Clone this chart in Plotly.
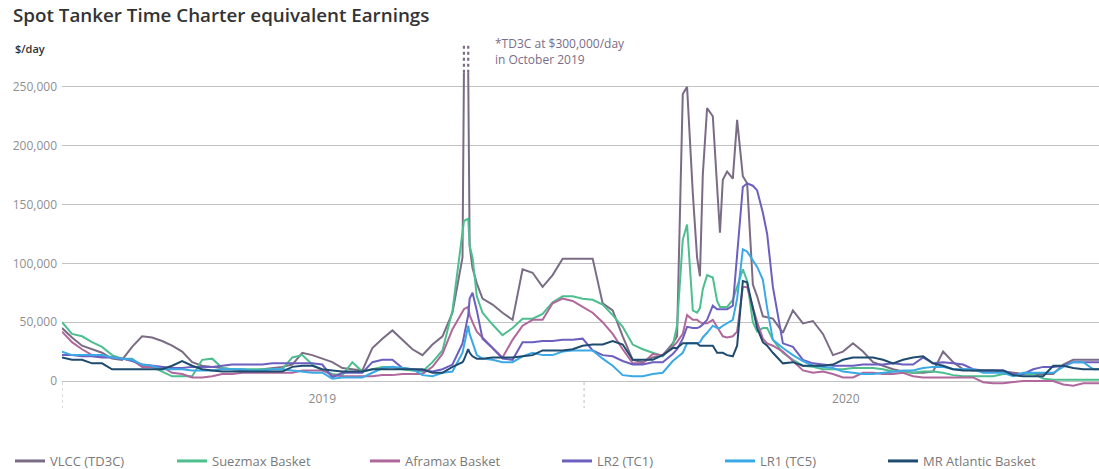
import plotly.graph_objects as go

# ---------------- data (values in $ thousands per day) ----------------
DATES = [
    "2019-01-01", "2019-01-08", "2019-01-15", "2019-01-22", "2019-01-29",
    "2019-02-05", "2019-02-12", "2019-02-19", "2019-02-26",
    "2019-03-05", "2019-03-12", "2019-03-19", "2019-03-26",
    "2019-04-02", "2019-04-09", "2019-04-16", "2019-04-23", "2019-04-30",
    "2019-05-07", "2019-05-14", "2019-05-21", "2019-05-28",
    "2019-06-04", "2019-06-11", "2019-06-18", "2019-06-25",
    "2019-07-02", "2019-07-09", "2019-07-16", "2019-07-23", "2019-07-30",
    "2019-08-06", "2019-08-13", "2019-08-20", "2019-08-27",
    "2019-09-03", "2019-09-10", "2019-09-17", "2019-09-24",
    "2019-10-01", "2019-10-08", "2019-10-09", "2019-10-12", "2019-10-13", "2019-10-15", "2019-10-18", "2019-10-22", "2019-10-29",
    "2019-11-05", "2019-11-12", "2019-11-19", "2019-11-26",
    "2019-12-03", "2019-12-10", "2019-12-17", "2019-12-24", "2019-12-31",
    "2020-01-07", "2020-01-14", "2020-01-21", "2020-01-28",
    "2020-02-04", "2020-02-11", "2020-02-18", "2020-02-25",
    "2020-03-03", "2020-03-06", "2020-03-10", "2020-03-13", "2020-03-17", "2020-03-20", "2020-03-22", "2020-03-24", "2020-03-27", "2020-03-31",
    "2020-04-03", "2020-04-05", "2020-04-07", "2020-04-10", "2020-04-14", "2020-04-17", "2020-04-21", "2020-04-24", "2020-04-28",
    "2020-05-01", "2020-05-05", "2020-05-08", "2020-05-12", "2020-05-19", "2020-05-26",
    "2020-06-02", "2020-06-09", "2020-06-16", "2020-06-23", "2020-06-30",
    "2020-07-07", "2020-07-14", "2020-07-21", "2020-07-28",
    "2020-08-04", "2020-08-11", "2020-08-18", "2020-08-25",
    "2020-09-01", "2020-09-08", "2020-09-15", "2020-09-22", "2020-09-29",
    "2020-10-06", "2020-10-13", "2020-10-20", "2020-10-27",
    "2020-11-03", "2020-11-10", "2020-11-17", "2020-11-24",
    "2020-12-01", "2020-12-08", "2020-12-15", "2020-12-22", "2020-12-29",
]

VLCC = [
    45, 37, 30, 27, 24,
    19, 18, 29, 38,
    37, 34, 30, 25,
    16, 13, 12, 11, 10,
    9, 9, 10, 11,
    12, 14, 24, 22,
    19, 16, 11, 10, 9,
    28, 36, 43, 35,
    27, 22, 31, 38,
    58, 105, 300, 300, 115, 96, 83, 70, 65,
    58, 52, 95, 92,
    80, 90, 104, 104, 104,
    104, 66, 60, 38,
    18, 16, 20, 22,
    32, 38, 244, 250, 160, 105, 89, 175, 232, 225,
    171, 126, 171, 178, 172, 222, 174, 168, 82,
    72, 55, 54, 53, 41, 60,
    49, 51, 40, 22, 25,
    32, 25, 16, 13,
    10, 8, 7, 7,
    8, 25, 16, 10, 9,
    9, 9, 8, 7,
    6, 6, 6, 6,
    14, 18, 18, 18, 18,
]

SUEZMAX = [
    50, 40, 38, 33, 29,
    22, 19, 19, 13,
    12, 8, 4, 4,
    4, 18, 19, 11, 10,
    10, 10, 10, 10,
    10, 20, 22, 14,
    9, 6, 5, 16, 8,
    10, 12, 12, 10,
    9, 8, 16, 26,
    60, 125, 136, 138, 115, 105, 72, 58, 48,
    39, 45, 53, 53,
    57, 67, 72, 72, 70,
    69, 65, 56, 46,
    31, 27, 24, 21,
    30, 47, 120, 133, 60, 58, 62, 78, 90, 88,
    68, 63, 63, 63, 69, 80, 95, 85, 50,
    42, 45, 45, 35, 24, 18,
    13, 12, 10, 10, 10,
    11, 11, 11, 10,
    8, 8, 7, 8,
    8, 7, 5, 4, 4,
    4, 4, 6, 6,
    6, 6, 2, 1,
    1, 1, 1, 1, 1,
]

AFRAMAX = [
    42, 33, 27, 22, 21,
    20, 19, 18, 12,
    12, 12, 7, 6,
    3, 3, 4, 6, 6,
    7, 7, 7, 7,
    7, 7, 9, 9,
    9, 5, 4, 4, 4,
    4, 5, 5, 6,
    6, 6, 12, 23,
    44, 58, 61, 63, 56, 50, 42, 37, 28,
    20, 35, 47, 52,
    52, 66, 70, 68, 63,
    58, 50, 40, 27,
    15, 15, 23, 22,
    29, 33, 40, 56, 52, 52, 50, 49, 49, 52,
    46, 42, 38, 37, 38, 42, 80, 80, 62,
    50, 36, 32, 30, 25, 17,
    9, 7, 8, 6, 3,
    3, 7, 7, 6,
    6, 7, 4, 3,
    3, 3, 3, 3, 3,
    -1, -2, -2, -1,
    0, 0, 0, 0,
    -3, -4, -2, -2, -2,
]

LR2 = [
    22, 22, 21, 21, 20,
    20, 19, 17, 14,
    13, 12, 11, 11,
    12, 12, 12, 13, 14,
    14, 14, 14, 15,
    15, 15, 15, 15,
    14, 3, 7, 7, 7,
    16, 18, 18, 11,
    10, 9, 8, 10,
    14, 32, 38, 56, 70, 75, 60, 36, 28,
    19, 18, 33, 33,
    34, 34, 35, 35, 36,
    26, 22, 21, 17,
    14, 14, 16, 16,
    23, 27, 36, 46, 45, 45, 46, 48, 52, 64,
    61, 61, 61, 61, 64, 110, 165, 168, 166,
    162, 143, 125, 80, 32, 29,
    18, 15, 14, 13, 13,
    13, 14, 14, 14,
    15, 14, 14, 20,
    15, 16, 15, 14, 10,
    9, 9, 9, 6,
    6, 10, 12, 12,
    13, 16, 16, 16, 16,
]

LR1 = [
    25, 22, 22, 22, 22,
    20, 19, 18, 14,
    13, 10, 10, 10,
    9, 9, 9, 10, 10,
    10, 9, 9, 10,
    10, 9, 8, 7,
    7, 2, 3, 3, 3,
    7, 11, 12, 11,
    10, 5, 4, 7,
    8, 24, 30, 47, 40, 33, 22, 19, 18,
    16, 16, 21, 24,
    22, 22, 25, 26, 26,
    26, 19, 13, 5,
    4, 4, 6, 7,
    17, 20, 24, 32, 32, 32, 33, 37, 41, 47,
    45, 45, 47, 49, 52, 70, 112, 110, 103,
    97, 86, 62, 35, 28, 22,
    17, 13, 12, 11, 8,
    7, 6, 6, 7,
    8, 9, 9, 11,
    12, 12, 10, 10, 10,
    7, 7, 7, 4,
    7, 7, 7, 7,
    12, 16, 16, 10, 10,
]

MR_ATLANTIC = [
    20, 18, 18, 15, 15,
    10, 10, 10, 10,
    10, 10, 13, 17,
    13, 10, 9, 8, 8,
    8, 8, 8, 8,
    8, 12, 13, 13,
    10, 9, 8, 8, 8,
    10, 10, 10, 10,
    10, 10, 7, 7,
    12, 16, 18, 27, 24, 21, 19, 19, 20,
    20, 20, 21, 22,
    26, 26, 26, 27, 30,
    31, 31, 34, 31,
    18, 18, 18, 22,
    28, 28, 32, 32, 32, 32, 30, 30, 30, 30,
    24, 24, 24, 22, 21, 30, 85, 84, 62,
    45, 33, 30, 24, 15, 16,
    13, 13, 13, 14, 18,
    20, 20, 20, 18,
    15, 18, 20, 21,
    15, 13, 10, 9, 9,
    9, 9, 9, 5,
    4, 4, 4, 13,
    13, 11, 10, 10, 10,
]

SERIES_NAMES = ["VLCC (TD3C)", "Suezmax Basket", "Aframax Basket", "LR2 (TC1)", "LR1 (TC5)", "MR Atlantic Basket"]
SERIES_VALUES = [VLCC, SUEZMAX, AFRAMAX, LR2, LR1, MR_ATLANTIC]
Y_TICKS = [0, 50000, 100000, 150000, 200000, 250000]
X_TICK_DATES = ["2019-07-02", "2020-07-02"]
X_TICK_LABELS = ["2019", "2020"]
YEAR_STARTS = ["2019-01-01", "2020-01-01"]
FOOTNOTE = "*TD3C at $300,000/day<br>in October 2019"

# ---------------- styling ----------------
UNIT = 1000
CAP = 262000          # where the off-scale VLCC spike is broken
BREAK_TOP = 287000    # top of the dotted continuation
COLORS = ["#7b6c86", "#4dbf8f", "#b0679b", "#6b5fbf", "#3aa9e6", "#1e4b6e"]
LEGEND_X_PX = [10, 172, 365, 557, 720, 883]
W, H = 1099, 469
FONT = "Open Sans"

for s in SERIES_VALUES:
    assert len(s) == len(DATES), (len(s), len(DATES))

fig = go.Figure()

for i, (name, vals, col) in enumerate(zip(SERIES_NAMES, SERIES_VALUES, COLORS)):
    xs, ys = [], []
    prev_capped = False
    for d, v in zip(DATES, vals):
        val = v * UNIT
        capped = val > CAP
        if capped and prev_capped:
            xs.append(None)
            ys.append(None)
        xs.append(d)
        ys.append(min(val, CAP))
        prev_capped = capped
    fig.add_trace(go.Scatter(
        x=xs, y=ys, mode="lines", name=name, showlegend=False,
        line=dict(color=col, width=2), connectgaps=False,
        hoverinfo="skip",
    ))

# legend-only entries (thicker key lines, as in the original)
for i, (name, col) in enumerate(zip(SERIES_NAMES, COLORS)):
    leg = "legend" if i == 0 else f"legend{i + 1}"
    fig.add_trace(go.Scatter(
        x=[None], y=[None], mode="lines", name=name, legend=leg,
        line=dict(color=col, width=3), showlegend=True, hoverinfo="skip",
    ))

# dotted continuation for the off-scale spike
bx, by = [], []
for d, v in zip(DATES, VLCC):
    if v * UNIT > CAP:
        bx += [d, d, None]
        by += [CAP, BREAK_TOP, None]
fig.add_trace(go.Scatter(
    x=bx, y=by, mode="lines", showlegend=False, hoverinfo="skip",
    line=dict(color=COLORS[0], width=2.2, dash="dot"),
))

# ---------------- layout ----------------
ML, MR_, MT, MB = 62, 0, 40, 79
plot_h = H - MT - MB
y_per_px = 850
y_min = -(plot_h - (381 - MT)) * y_per_px
y_max = y_min + plot_h * y_per_px

legend_common = dict(
    orientation="h", xref="container", yref="container",
    y=1 - 461 / H, yanchor="middle", xanchor="left",
    font=dict(family=FONT, size=13, color="#7a7a7a"),
    bgcolor="rgba(0,0,0,0)", borderwidth=0,
)
legends = {}
for i, px in enumerate(LEGEND_X_PX):
    key = "legend" if i == 0 else f"legend{i + 1}"
    legends[key] = dict(legend_common, x=px / W)

fig.update_layout(
    width=W, height=H,
    margin=dict(l=ML, r=MR_, t=MT, b=MB, pad=0),
    paper_bgcolor="white", plot_bgcolor="white",
    font=dict(family=FONT, color="#888"),
    title=dict(
        text="Spot Tanker Time Charter equivalent Earnings",
        xref="container", yref="container",
        x=13 / W, xanchor="left", y=1 - 15 / H, yanchor="middle",
        font=dict(family=FONT, size=18.8, color="#333333", weight=600),
    ),
    xaxis=dict(
        type="date",
        range=["2019-01-01", "2020-12-26"],
        tickvals=X_TICK_DATES, ticktext=X_TICK_LABELS,
        ticks="", showgrid=False, showline=False, zeroline=False,
        tickfont=dict(family=FONT, size=12, color="#8a8a8a"),
        fixedrange=True,
    ),
    yaxis=dict(
        range=[y_min, y_max],
        tickvals=Y_TICKS, tickformat=",d",
        showgrid=True, gridcolor="#c2c2c2", gridwidth=1.2,
        zeroline=False, showline=False, ticks="",
        ticklabelstandoff=4,
        tickfont=dict(family=FONT, size=12, color="#8f8f8f"),
        fixedrange=True,
    ),
    annotations=[
        dict(
            text="$/day", xref="paper", yref="paper",
            x=(13 - ML) / (W - ML - MR_), xanchor="left",
            y=(H - MB - 48) / plot_h, yanchor="middle",
            showarrow=False,
            font=dict(family=FONT, size=11, color="#333333", weight=600),
        ),
        dict(
            text=FOOTNOTE, xref="paper", yref="paper",
            x=(493 - ML) / (W - ML - MR_), xanchor="left",
            y=(H - MB - 51) / plot_h, yanchor="middle", align="left",
            showarrow=False,
            font=dict(family=FONT, size=12, color="#7b6c86"),
        ),
    ],
    shapes=[
        dict(type="line", xref="x", yref="paper", x0=d, x1=d,
             y0=(H - MB - 382) / plot_h, y1=(H - MB - 408) / plot_h,
             line=dict(color="#bdbdbd", width=1, dash="dot"))
        for d in YEAR_STARTS
    ],
    **legends,
)

fig.write_html(
    "out.html",
    config={"displayModeBar": False},
    post_script="document.body.style.margin='0';document.body.style.padding='0';",
)
